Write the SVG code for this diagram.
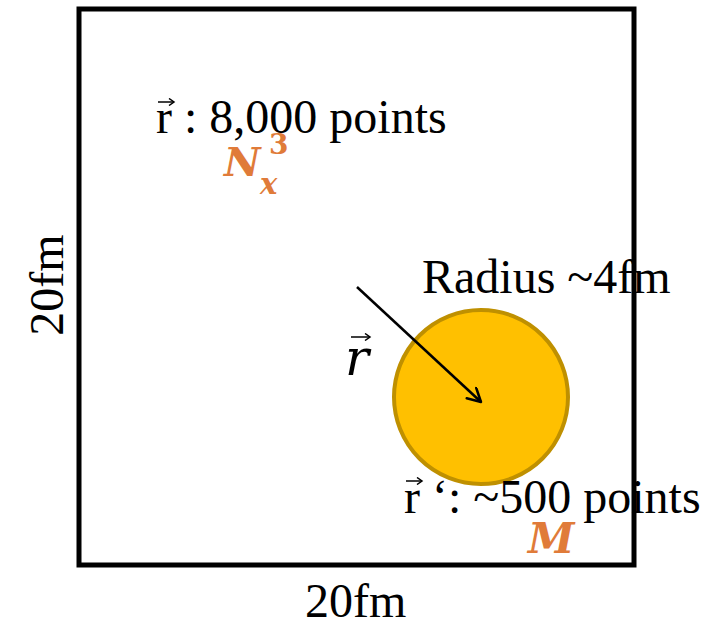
<svg xmlns="http://www.w3.org/2000/svg" width="716" height="624" viewBox="0 0 716 624">
<defs>
<marker id="ah" markerWidth="20" markerHeight="20" refX="15" refY="8" orient="auto" markerUnits="userSpaceOnUse">
<path d="M2,1 L15,8 L2,15" fill="none" stroke="#000" stroke-width="2.5" stroke-linecap="round" stroke-linejoin="round"/>
</marker>
<marker id="vh" markerWidth="8" markerHeight="8" refX="6" refY="4" orient="auto" markerUnits="userSpaceOnUse">
<path d="M1,0.5 L6,4 L1,7.5" fill="none" stroke="#000" stroke-width="1.5"/>
</marker>
</defs>
<rect width="716" height="624" fill="#fff"/>
<g id="box"><rect x="79" y="9" width="555" height="556" fill="none" stroke="#000" stroke-width="5"/></g>
<g id="sphere"><circle cx="481" cy="397" r="87" fill="#FFC000" stroke="#BF9000" stroke-width="4"/></g>
<g id="connectors"><line x1="357" y1="287" x2="481" y2="402" stroke="#000" stroke-width="2.5" marker-end="url(#ah)"/></g>
<g id="vector-arrows" stroke="#000" stroke-width="1.5" fill="none">
<line x1="158" y1="102" x2="174" y2="102" marker-end="url(#vh)"/>
<line x1="351" y1="337" x2="370" y2="337" marker-end="url(#vh)"/>
<line x1="406" y1="481" x2="422" y2="481" marker-end="url(#vh)"/>
</g>
<g id="labels" font-family="Liberation Serif, Times New Roman, serif" font-size="48" fill="#000">
<text x="156" y="133">r : 8,000 points</text>
<text x="422" y="293">Radius ~4fm</text>
<text x="404" y="513">r ‘: ~500 points</text>
<text x="305" y="617">20fm</text>
<text transform="translate(63,285) rotate(-90)" text-anchor="middle">20fm</text>
</g>
<g id="rvec" font-family="DejaVu Serif, serif" font-style="italic" font-size="50" fill="#000">
<text x="345" y="375">r</text>
</g>
<g id="math" font-family="DejaVu Serif, serif" font-weight="bold" font-style="italic" fill="#E07B39">
<text x="224" y="176" font-size="40">N</text>
<text x="260" y="194" font-size="29">x</text>
<text x="269" y="154" font-size="28" font-style="normal">3</text>
<text x="528" y="553" font-size="42">M</text>
</g>
</svg>
